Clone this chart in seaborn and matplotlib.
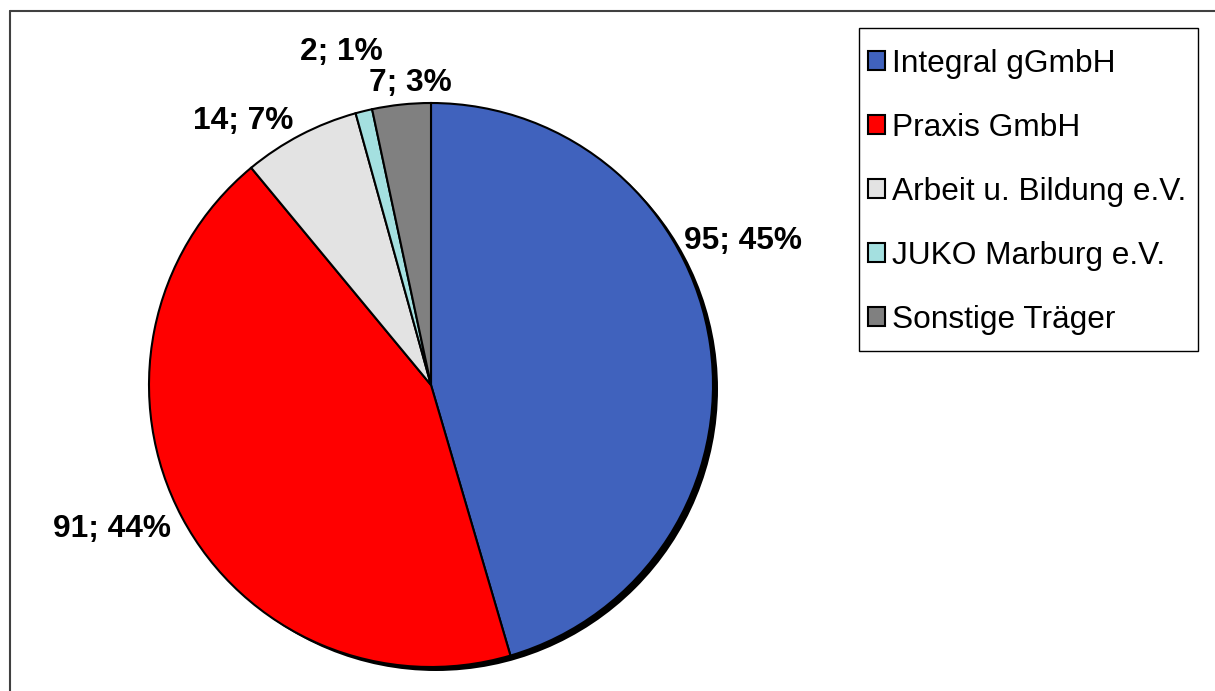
import matplotlib
matplotlib.use("Agg")
import matplotlib.pyplot as plt
import seaborn as sns
from matplotlib.patches import Circle, Patch, Rectangle
from matplotlib.lines import Line2D

categories = ["Integral gGmbH", "Praxis GmbH", "Arbeit u. Bildung e.V.",
              "JUKO Marburg e.V.", "Sonstige Träger"]
values = [95, 91, 14, 2, 7]
colors = ["#4062BD", "#FF0000", "#E3E3E3", "#A4E0E0", "#808080"]

sns.set_theme(style="white")
plt.rcParams["font.family"] = ["Liberation Sans", "DejaVu Sans"]
plt.rcParams["text.color"] = "black"

W, H, DPI = 1215, 691, 100
fig = plt.figure(figsize=(W / DPI, H / DPI), dpi=DPI)
fig.patch.set_facecolor("white")

# pie geometry (layout, pixels)
cx, cy, R = 431, 385, 282
ax = fig.add_axes([0, 0, 1, 1])

# shadow
ax.add_patch(Circle((5 / R, -4 / R), 1.0, facecolor="black", edgecolor="none", zorder=0))

wedges, _ = ax.pie(values, colors=colors, startangle=90, counterclock=False,
                   radius=1.0, center=(0, 0), frame=True,
                   wedgeprops=dict(edgecolor="black", linewidth=1.5))
ax.set_xlim(-cx / R, (W - cx) / R)
ax.set_ylim(-(H - cy) / R, cy / R)
ax.axis("off")

total = sum(values)
label_offsets = [(312, 144), (-319, -144), (-188, 264), (-90, 333), (-21, 302)]
for v, (dx, dy) in zip(values, label_offsets):
    ax.text(dx / R, dy / R, f"{v}; {round(100 * v / total)}%", ha="center", va="center",
            fontsize=22.8, fontweight="bold", color="black")

handles = [Patch(facecolor=c, edgecolor="black", linewidth=1.5) for c in colors]
leg = fig.legend(handles, categories, loc="upper left",
                 bbox_to_anchor=(868 / W, 1 - 49 / H), bbox_transform=fig.transFigure,
                 fontsize=22.8, frameon=False, labelcolor="black",
                 handlelength=0.55, handleheight=0.55,
                 handletextpad=0.22, labelspacing=1.07, borderpad=0,
                 borderaxespad=0)

# legend box
fig.add_artist(Rectangle((859 / W, 1 - 351 / H), (1198 - 859) / W, (351 - 28) / H,
                         transform=fig.transFigure, facecolor="none",
                         edgecolor="black", linewidth=1.0, zorder=0))

# outer border (top and left visible)
fig.add_artist(Line2D([10 / W, 1.0], [1 - 11 / H, 1 - 11 / H], transform=fig.transFigure,
                      color="#404040", linewidth=1.5))
fig.add_artist(Line2D([10 / W, 10 / W], [0, 1 - 11 / H], transform=fig.transFigure,
                      color="#404040", linewidth=1.5))

fig.savefig("out.png", dpi=DPI)
